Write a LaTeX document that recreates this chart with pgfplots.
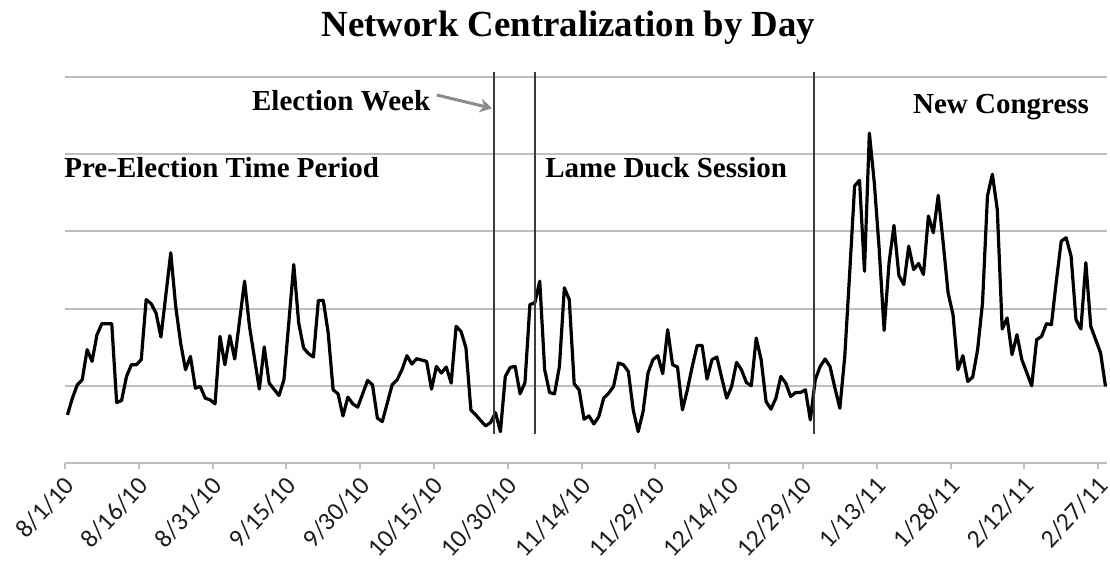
\documentclass[border=0pt]{standalone}
\usepackage{fontspec}
\setmainfont{Liberation Serif}
\newfontfamily\carlito{Carlito}
\usepackage{pgfplots}
\pgfplotsset{compat=1.18}
\usetikzlibrary{arrows.meta}
\definecolor{gridgray}{RGB}{191,191,191}
\definecolor{vline}{RGB}{60,60,60}
\definecolor{arrowgray}{RGB}{140,140,140}
\definecolor{ticktext}{RGB}{30,30,30}

\pgfplotstableread{
day val
0 0.623
1 0.840
2 1.013
3 1.078
4 1.468
5 1.316
6 1.662
7 1.805
8 1.805
9 1.805
10 0.783
11 0.809
12 1.121
13 1.273
14 1.273
15 1.338
16 2.117
17 2.065
18 1.944
19 1.632
21 2.723
22 2.030
23 1.555
24 1.208
25 1.381
26 0.970
27 0.991
28 0.840
29 0.818
30 0.766
31 1.640
32 1.273
33 1.649
34 1.347
36 2.355
37 1.770
39 0.957
40 1.503
41 1.035
43 0.874
44 1.078
46 2.571
47 1.814
48 1.490
49 1.416
50 1.373
51 2.104
52 2.108
53 1.684
54 0.948
55 0.896
56 0.610
57 0.853
58 0.766
59 0.723
61 1.069
62 1.013
63 0.581
64 0.536
66 1.013
67 1.078
68 1.208
69 1.390
70 1.282
71 1.351
73 1.316
74 0.957
75 1.251
76 1.165
77 1.243
78 1.035
79 1.770
80 1.705
81 1.490
82 0.688
83 0.623
84 0.549
85 0.481
86 0.523
87 0.653
88 0.406
89 1.121
90 1.238
91 1.251
92 0.896
93 1.043
94 2.052
95 2.074
96 2.355
97 1.208
98 0.913
99 0.896
100 1.251
101 2.269
102 2.117
103 1.026
104 0.948
105 0.568
106 0.610
107 0.506
108 0.601
109 0.840
110 0.905
111 0.991
112 1.295
113 1.273
114 1.186
115 0.688
116 0.406
117 0.666
118 1.165
119 1.338
120 1.390
121 1.156
122 1.727
123 1.273
124 1.243
125 0.688
126 0.948
127 1.251
128 1.523
129 1.523
130 1.087
131 1.338
132 1.373
133 1.100
134 0.840
135 0.991
136 1.303
137 1.208
138 1.043
139 1.000
140 1.619
141 1.338
142 0.796
143 0.697
144 0.840
145 1.121
146 1.035
147 0.861
148 0.913
149 0.913
150 0.948
151 0.558
152 1.078
153 1.251
154 1.347
155 1.251
156 0.970
157 0.710
158 1.381
159 2.464
160 3.588
161 3.662
162 2.484
163 4.273
164 3.632
165 2.766
166 1.718
167 2.594
168 3.078
169 2.429
170 2.312
171 2.809
172 2.506
173 2.584
174 2.442
175 3.199
176 2.983
177 3.468
178 2.853
179 2.204
180 1.922
181 1.208
182 1.390
183 1.056
184 1.113
185 1.468
186 2.074
187 3.458
188 3.740
189 3.286
190 1.736
191 1.879
192 1.403
193 1.662
194 1.338
196 1.000
197 1.597
198 1.640
199 1.805
200 1.792
201 2.355
202 2.874
203 2.918
204 2.679
205 1.857
206 1.736
207 2.594
208 1.770
210 1.425
211 0.991
}\centdata

\begin{document}
\begin{tikzpicture}
\begin{axis}[
  scale only axis, width=521pt, height=193pt,
  xmin=-0.5, xmax=211.3, ymin=0, ymax=5,
  axis x line*=bottom, axis y line*=left,
  x axis line style={draw=gridgray, line width=1pt, -},
  y axis line style={draw=none},
  xtick={-0.5,14.5,...,209.5},
  xticklabels={8/1/10,8/16/10,8/31/10,9/15/10,9/30/10,10/15/10,10/30/10,11/14/10,11/29/10,12/14/10,12/29/10,1/13/11,1/28/11,2/12/11,2/27/11},
  x tick label style={font=\carlito\fontsize{12.8}{14}\selectfont, text=ticktext, rotate=47, anchor=east, inner sep=1pt, yshift=-6pt, xshift=-1.8pt},
  xtick style={draw=gridgray, line width=1pt},
  tick align=outside, major tick length=3pt,
  ytick={1,2,3,4,5}, yticklabels={}, ytick style={draw=none},
  ymajorgrids, grid style={draw=gridgray, line width=1pt},
  clip=false,
]
\addplot[black, line width=1.6pt, line join=round, mark=none] table[x=day, y=val] {\centdata};
\draw[vline, line width=0.8pt] (axis cs:86.7,0.377) -- (axis cs:86.7,5.06);
\draw[vline, line width=0.8pt] (axis cs:95.0,0.377) -- (axis cs:95.0,5.06);
\draw[vline, line width=0.8pt] (axis cs:151.7,0.377) -- (axis cs:151.7,5.06);
\coordinate (O) at (axis cs:-0.5,0);
\end{axis}
\node[anchor=base, inner sep=0pt, font=\bfseries\fontsize{18.4}{20}\selectfont] at ([shift={(251.75pt,213pt)}]O) {Network Centralization by Day};
\begin{scope}[every node/.style={anchor=base west, inner sep=0pt, font=\bfseries\fontsize{14.5}{16}\selectfont}]
\node at ([shift={(-0.5pt,142.85pt)}]O) {Pre-Election Time Period};
\node at ([shift={(93.35pt,176.15pt)}]O) {Election Week};
\node at ([shift={(240pt,142.85pt)}]O) {Lame Duck Session};
\node at ([shift={(423.85pt,174.5pt)}]O) {New Congress};
\end{scope}
\draw[arrowgray, line width=1.5pt, -{Stealth[length=6pt,width=7pt]}] ([shift={(185.85pt,184pt)}]O) -- ([shift={(213.5pt,177.35pt)}]O);
\pgfresetboundingbox
\path[use as bounding box] ([shift={(-32.5pt,-57pt)}]O) rectangle ++(555pt,288.5pt);
\end{tikzpicture}
\end{document}
